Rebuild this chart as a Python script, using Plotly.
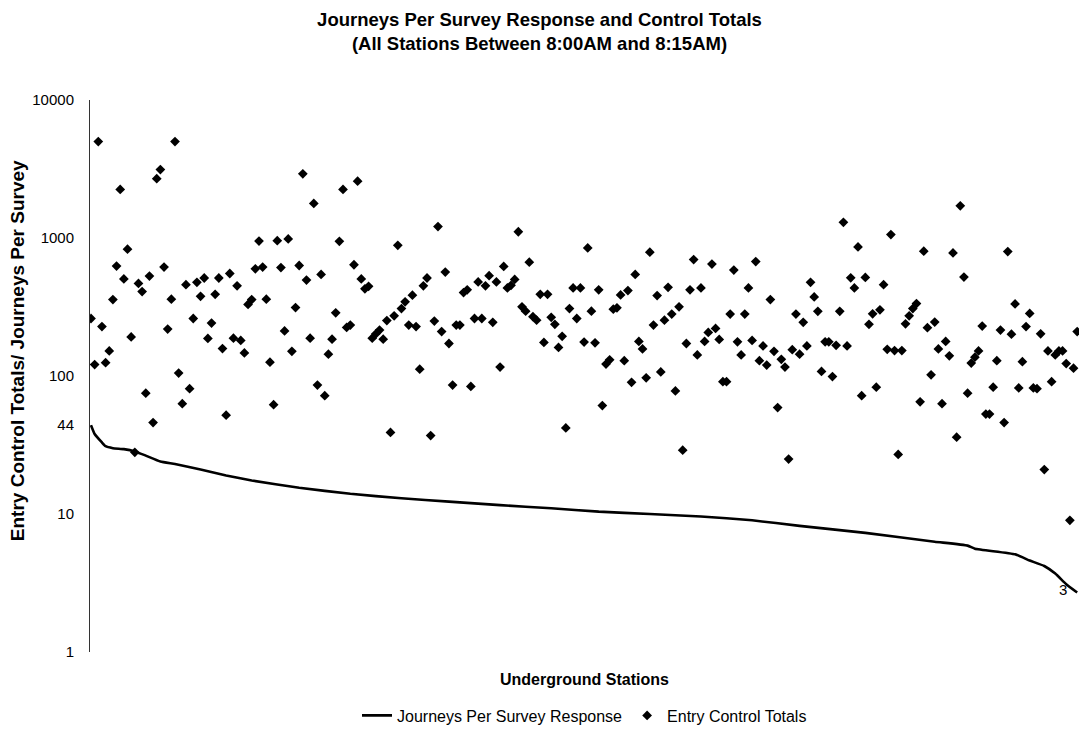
import plotly.graph_objects as go
import math

title_lines = ["Journeys Per Survey Response and Control Totals",
               "(All Stations Between 8:00AM and 8:15AM)"]
y_title = "Entry Control Totals/ Journeys Per Survey"
x_title = "Underground Stations"
line_name = "Journeys Per Survey Response"
marker_name = "Entry Control Totals"

y_tick_values = [1, 10, 44, 100, 1000, 10000]
y_tick_labels = ["1", "10", "44", "100", "1000", "10000"]

entry_totals = [
    261, 121, 5000, 228, 125, 152, 358, 626, 2250, 505,
    829, 192, 28, 469, 409, 75, 530, 46, 2690, 3130,
    616, 219, 360, 5000, 105, 63, 459, 81, 261, 477,
    378, 513, 187, 242, 391, 513, 158, 52, 553, 188,
    450, 181, 147, 330, 358, 598, 950, 616, 360, 126,
    62, 956, 611, 212, 984, 151, 313, 632, 2920, 496,
    188, 1780, 86, 544, 72, 144, 185, 287, 946, 2250,
    225, 234, 640, 2580, 505, 428, 447, 188, 202, 215,
    185, 252, 39, 273, 885, 308, 345, 234, 385, 228,
    112, 450, 513, 37, 250, 1210, 210, 566, 172, 86,
    234, 234, 402, 421, 84, 261, 480, 261, 450, 533,
    245, 480, 116, 622, 435, 454, 501, 1110, 317, 295,
    668, 269, 254, 391, 175, 391, 266, 237, 161, 194,
    42, 308, 435, 261, 435, 176, 847, 295, 174, 421,
    61, 122, 131, 305, 312, 387, 129, 416, 90, 544,
    178, 157, 97, 789, 234, 383, 107, 254, 439, 281,
    78, 317, 29, 172, 421, 698, 142, 435, 178, 207,
    647, 221, 184, 91, 91, 281, 586, 177, 142, 281,
    435, 181, 675, 129, 165, 120, 358, 151, 59, 132,
    116, 25, 155, 281, 144, 245, 165, 477, 374, 294,
    108, 177, 177, 99, 167, 294, 1300, 165, 515, 435,
    861, 72, 518, 237, 282, 83, 302, 459, 156, 1060,
    153, 27, 153, 239, 273, 308, 335, 65, 802, 224,
    102, 246, 157, 63, 178, 140, 780, 36, 1710, 521,
    75, 124, 137, 152, 230, 53, 53, 83, 129, 215,
    46, 797, 201, 333, 82, 127, 228, 284, 82, 81,
    202, 21, 152, 91, 142, 152, 152, 123, 9, 114,
    210,
]
stations = list(range(1, len(entry_totals) + 1))

line_stations = [1, 2, 4, 5, 7, 10, 13, 16, 20, 24, 31, 38, 45, 58, 72, 86, 99,
                 113, 127, 140, 154, 168, 182, 195, 213, 232, 241, 243, 254,
                 258, 262, 265, 268, 271]
journeys_per_response = [44, 38, 33, 31, 30, 29.5, 28.4, 26.5, 24, 23, 21, 19,
                         17.5, 15.5, 14, 13, 12.3, 11.6, 11, 10.4, 10, 9.6, 9,
                         8.2, 7.3, 6.3, 5.9, 5.6, 5.1, 4.6, 4.2, 3.7, 3.1, 2.7]

FONT = "Liberation Sans, Arial, sans-serif"

fig = go.Figure()
fig.add_trace(go.Scatter(
    x=line_stations, y=journeys_per_response, mode="lines", name=line_name,
    line=dict(color="#000000", width=2.6, shape="spline", smoothing=0.4),
))
fig.add_trace(go.Scatter(
    x=stations, y=entry_totals, mode="markers", name=marker_name,
    marker=dict(symbol="diamond", size=7.5, color="#000000"),
))

fig.update_layout(
    width=1079, height=733,
    margin=dict(l=90, r=0, t=100, b=77),
    paper_bgcolor="white", plot_bgcolor="white",
    font=dict(family=FONT, color="#000000", size=15),
    title=dict(text="<b>" + title_lines[0] + "<br>" + title_lines[1] + "</b>",
               x=0.5, xanchor="center", y=0.9645, yanchor="top",
               font=dict(size=18.5, family=FONT, color="#000000")),
    showlegend=True,
    legend=dict(orientation="h", x=0.5, xanchor="center", y=-0.115,
                yanchor="middle", font=dict(size=16, family=FONT),
                bgcolor="rgba(0,0,0,0)"),
    xaxis=dict(range=[0.73, 271.5], showline=False, showgrid=False,
               zeroline=False, showticklabels=False, ticks=""),
    yaxis=dict(type="log", range=[0, 4], showline=True, linecolor="#333333",
               linewidth=1, showgrid=False, zeroline=False, ticks="",
               tickvals=y_tick_values, ticktext=y_tick_labels,
               ticklabelstandoff=12, tickfont=dict(size=15, family=FONT)),
)

fig.add_annotation(text="<b>" + x_title + "</b>", xref="paper", yref="paper",
                   x=0.5, y=-0.05, xanchor="center", yanchor="middle",
                   showarrow=False, font=dict(size=16, family=FONT))
fig.add_annotation(text="<b>" + y_title + "</b>", xref="paper", yref="paper",
                   x=-0.0738, y=0.545, xanchor="center", yanchor="middle",
                   textangle=-90, showarrow=False, font=dict(size=19, family=FONT))
fig.add_annotation(text=str(round(journeys_per_response[-1])),
                   x=line_stations[-1], y=math.log10(journeys_per_response[-1]),
                   xref="x", yref="y", showarrow=False, xshift=-14, yshift=3,
                   font=dict(size=15, family=FONT))

fig.write_html("out.html")
